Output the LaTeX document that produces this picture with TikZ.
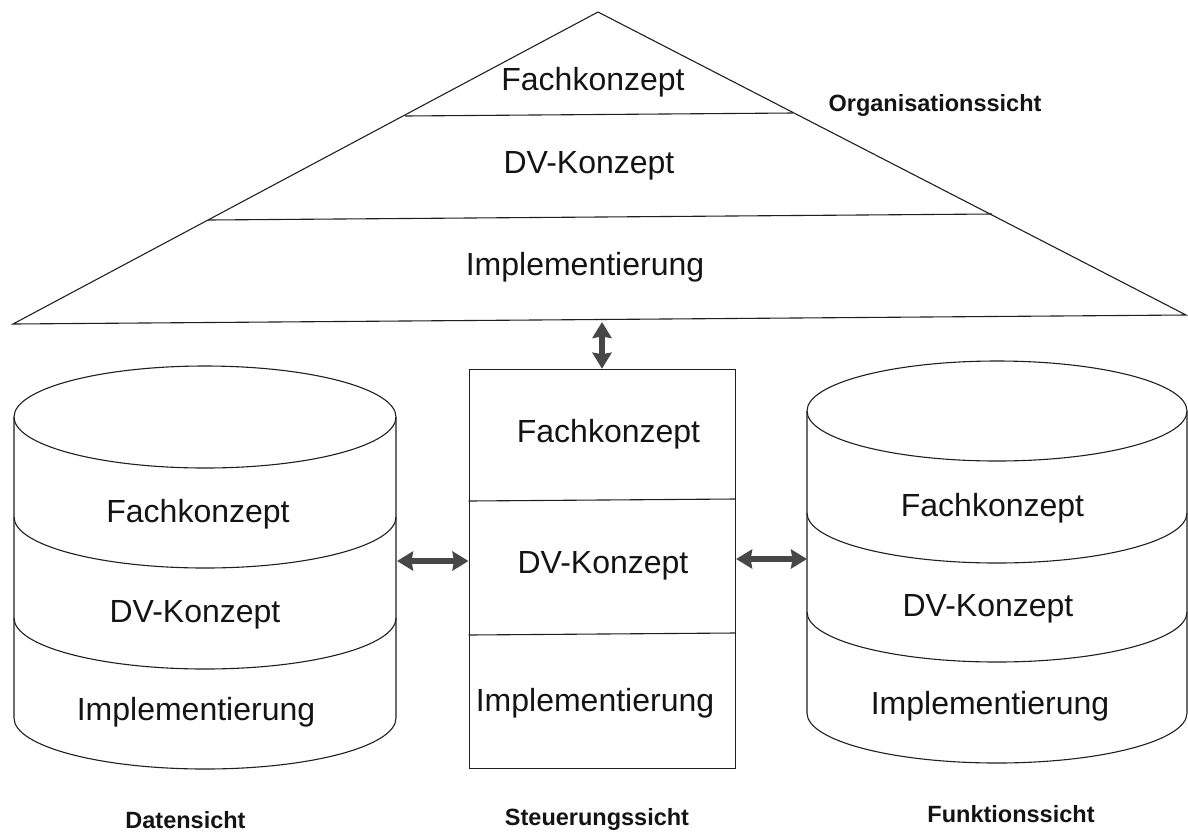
\documentclass[tikz,border=0pt]{standalone}
\usepackage{fontspec}
\setmainfont{Liberation Sans}
\usetikzlibrary{arrows.meta}
\tikzset{
 ln/.style={draw=black!88,line width=1.1pt},
 bigtext/.style={font=\fontsize{32}{36}\selectfont,text=black!92,inner sep=0pt,anchor=base},
 captext/.style={font=\fontsize{23.5}{27}\bfseries\selectfont,text=black!92,inner sep=0pt,anchor=base},
 dbl/.style={draw=black!72,line width=6pt,{Stealth[length=16pt,width=19pt,inset=1.5pt]}-{Stealth[length=16pt,width=19pt,inset=1.5pt]}}
}
\newcommand{\cyl}[8]{% xl, xr, ytop-centre, ry, side bottom, arc 1 ends, arc 2 ends, name
 \coordinate (#8 east) at (#2,#3);
 \coordinate (#8 west) at (#1,#3);
 \draw[ln] (#1,#3) -- (#1,#5) arc[start angle=180,end angle=0,x radius={(#2-#1)/2},y radius=#4] -- (#2,#3);
 \draw[ln] (#1,#3) arc[start angle=180,end angle=-180,x radius={(#2-#1)/2},y radius=#4];
 \draw[ln] (#1,#6) arc[start angle=180,end angle=0,x radius={(#2-#1)/2},y radius=#4];
 \draw[ln] (#1,#7) arc[start angle=180,end angle=0,x radius={(#2-#1)/2},y radius=#4];
}
\begin{document}
\begin{tikzpicture}[x=1pt,y=-1pt]
\useasboundingbox (0,0) rectangle (1188,831);
% triangle
\coordinate (apex) at (598,12);
\coordinate (tl) at (13,324);
\coordinate (tr) at (1186,315);
\draw[ln,line join=miter] (apex) -- (tr) -- (tl) -- cycle;
\draw[ln] (405,116) -- (793,113);
\draw[ln] (208,220) -- (992,214);
\node[bigtext] (tf) at (593,90) {Fachkonzept};
\node[bigtext] (td) at (589,173) {DV-Konzept};
\node[bigtext] (ti) at (585,275) {Implementierung};
\node[captext] (org) at (935,111) {Organisationssicht};
\coordinate (tb) at (602,322);
% centre
\node[ln,minimum width=266.5pt,minimum height=399.5pt,inner sep=0pt,anchor=north west] (box) at (468.5,368.7) {};
\draw[ln] (468.5,501) -- (735,499);
\draw[ln] (468.5,635) -- (735,633);
\node[bigtext] (cf) at (608.5,442) {Fachkonzept};
\node[bigtext] (cd) at (603,573) {DV-Konzept};
\node[bigtext] (ci) at (595,711) {Implementierung};
\node[captext] (cc) at (597,825) {Steuerungssicht};
% left cylinder
\cyl{14}{396}{417}{51}{718}{517}{618}{lcyl}
\node[bigtext] (lf) at (198,522) {Fachkonzept};
\node[bigtext] (ld) at (195,622) {DV-Konzept};
\node[bigtext] (li) at (196,720) {Implementierung};
\node[captext] (lc) at (185.5,828) {Datensicht};
\coordinate (la) at (397,561);
% right cylinder
\cyl{807}{1187}{411}{50}{713}{513}{612}{rcyl}
\node[bigtext] (rf) at (992.5,516) {Fachkonzept};
\node[bigtext] (rd) at (988,616) {DV-Konzept};
\node[bigtext] (ri) at (990,714) {Implementierung};
\node[captext] (rc) at (1011,822) {Funktionssicht};
\coordinate (ra) at (807,559);
% arrows
\draw[dbl] (tb) -- (box.north -| tb);
\draw[dbl] (la) -- (box.west |- la);
\draw[dbl] (box.east |- ra) -- (ra);
\end{tikzpicture}
\end{document}
